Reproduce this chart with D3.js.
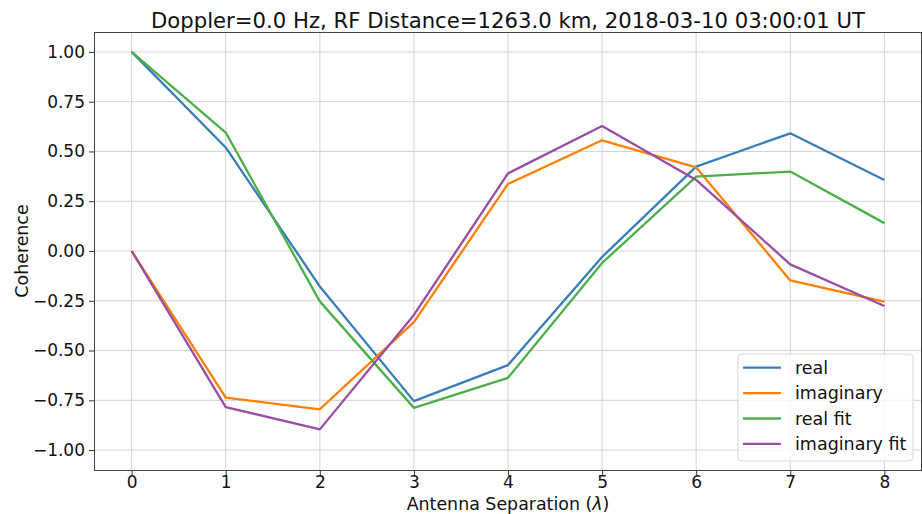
<!DOCTYPE html>
<html>
<head>
<meta charset="utf-8">
<script src="https://cdn.jsdelivr.net/npm/d3@7"></script>
<style>
  html, body { margin: 0; padding: 0; background: #fff; }
  svg { display: block; font-family: "DejaVu Sans", sans-serif; }
</style>
</head>
<body>
<svg id="chart" width="922" height="514"></svg>
<script>
// --- data ---
const separation = [0, 1, 2, 3, 4, 5, 6, 7, 8];
const realVals      = [1.00, 0.52, -0.178, -0.754, -0.573, -0.03, 0.424, 0.591, 0.357];
const imagVals      = [0.00, -0.737, -0.795, -0.357, 0.337, 0.556, 0.42, -0.148, -0.254];
const realFitVals   = [1.00, 0.595, -0.253, -0.788, -0.637, -0.06, 0.374, 0.399, 0.14];
const imagFitVals   = [0.00, -0.784, -0.896, -0.321, 0.39, 0.628, 0.357, -0.067, -0.276];
const seriesNames   = ["real", "imaginary", "real fit", "imaginary fit"];
const seriesColors  = ["#377eb8", "#ff7f00", "#4daf4a", "#984ea3"];
const yTicks = [-1.0, -0.75, -0.5, -0.25, 0.0, 0.25, 0.5, 0.75, 1.0];

const series = [realVals, imagVals, realFitVals, imagFitVals].map((vals, i) => ({
    name: seriesNames[i],
    color: seriesColors[i],
    values: vals.map((v, j) => ({ x: separation[j], y: v }))
}));

const svg = d3.select("#chart");
const margin = { left: 94, right: 922, top: 32, bottom: 470 };

const x = d3.scaleLinear().domain([-0.4, 8.4]).range([margin.left, margin.right]);
const y = d3.scaleLinear().domain([-1.1, 1.1]).range([margin.bottom, margin.top]);

// grid
const grid = svg.append("g").attr("class", "grid");
grid.selectAll(".gx")
    .data(separation)
    .enter().append("line")
    .attr("x1", d => x(d)).attr("x2", d => x(d))
    .attr("y1", margin.top).attr("y2", margin.bottom)
    .attr("stroke", "#d3d3d3").attr("stroke-width", 1);
grid.selectAll(".gy")
    .data(yTicks)
    .enter().append("line")
    .attr("y1", d => y(d)).attr("y2", d => y(d))
    .attr("x1", margin.left).attr("x2", margin.right)
    .attr("stroke", "#d3d3d3").attr("stroke-width", 1);

// lines
const line = d3.line().x(d => x(d.x)).y(d => y(d.y));
svg.append("g").selectAll("path")
    .data(series)
    .enter().append("path")
    .attr("fill", "none")
    .attr("stroke", d => d.color)
    .attr("stroke-width", 2.3)
    .attr("stroke-linejoin", "round")
    .attr("d", d => line(d.values));

// axes
const xAxis = d3.axisBottom(x).tickValues(separation).tickFormat(d3.format("d")).tickSize(5).tickPadding(1);
const yAxis = d3.axisLeft(y).tickValues(yTicks).tickFormat(d3.format(".2f")).tickSize(5).tickPadding(4);

const gx = svg.append("g").attr("transform", `translate(0,${margin.bottom})`).call(xAxis);
const gy = svg.append("g").attr("transform", `translate(${margin.left},0)`).call(yAxis);
[gx, gy].forEach(g => {
    g.select(".domain").remove();
    g.selectAll(".tick line").attr("stroke", "#333").attr("stroke-width", 1);
    g.selectAll(".tick text")
        .attr("fill", "#111")
        .style("font-size", "17px")
        .style("font-family", "DejaVu Sans, sans-serif");
});

// spines
svg.append("rect")
    .attr("x", margin.left + 0.5).attr("y", margin.top + 0.5)
    .attr("width", margin.right - margin.left - 1)
    .attr("height", margin.bottom - margin.top)
    .attr("fill", "none")
    .attr("stroke", "#444").attr("stroke-width", 1);

// title & labels
svg.append("text")
    .attr("x", (margin.left + margin.right) / 2).attr("y", 27.5)
    .attr("text-anchor", "middle")
    .attr("fill", "#111")
    .style("font-size", "21.2px")
    .text("Doppler=0.0 Hz, RF Distance=1263.0 km, 2018-03-10 03:00:01 UT");

const xlab = svg.append("text")
    .attr("x", (margin.left + margin.right) / 2).attr("y", 510)
    .attr("text-anchor", "middle")
    .attr("fill", "#111")
    .style("font-size", "17.4px")
    .text("Antenna Separation (");
xlab.append("tspan").style("font-style", "italic").text("λ");
xlab.append("tspan").text(")");

svg.append("text")
    .attr("transform", `translate(28,${(margin.top + margin.bottom) / 2}) rotate(-90)`)
    .attr("text-anchor", "middle")
    .attr("fill", "#111")
    .style("font-size", "17.4px")
    .text("Coherence");

// legend
const legend = svg.append("g").attr("transform", "translate(738,354)");
legend.append("rect")
    .attr("width", 175).attr("height", 107)
    .attr("rx", 4)
    .attr("fill", "rgba(255,255,255,0.8)")
    .attr("stroke", "#d6d6d6");

const rows = legend.selectAll(".row")
    .data(series)
    .enter().append("g")
    .attr("transform", (d, i) => `translate(0,${13.7 + i * 25.4})`);
rows.append("line")
    .attr("x1", 5).attr("x2", 43)
    .attr("stroke", d => d.color).attr("stroke-width", 2.3);
rows.append("text")
    .attr("x", 57).attr("dy", "0.35em")
    .attr("fill", "#111")
    .style("font-size", "17.5px")
    .text(d => d.name);
</script>
</body>
</html>
